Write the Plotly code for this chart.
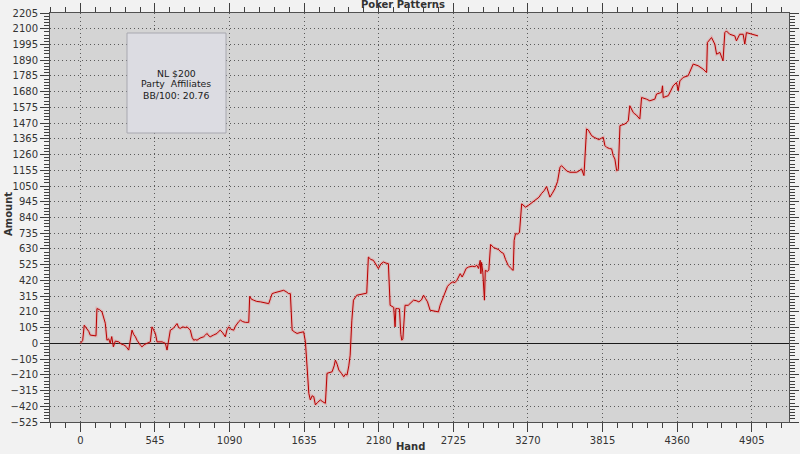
import plotly.graph_objects as go

# ---- data ----
hands = [0,17,28,46,61,72,95,114,121,139,158,173,182,194,207,218,229,241,255,280,
         299,317,333,353,366,377,389,402,414,426,441,450,465,486,499,511,523,535,548,560,
         577,597,609,621,633,645,657,679,694,706,718,730,748,767,779,791,803,816,828,840,
         852,874,901,913,925,938,949,972,998,1011,1022,1040,1059,1071,1084,1098,1120,1133,1144,1157,
         1169,1186,1206,1230,1237,1249,1266,1288,1315,1342,1376,1389,1401,1420,1437,1459,1485,1503,1522,1534,
         1547,1566,1583,1605,1631,1644,1654,1669,1680,1693,1705,1717,1732,1753,1771,1790,1802,1820,1839,1854,
         1863,1876,1888,1907,1924,1937,1948,1961,1971,1983,1995,2019,2044,2068,2080,2092,2104,2122,2141,2161,
         2177,2195,2214,2234,2250,2263,2278,2289,2299,2305,2317,2331,2341,2348,2356,2365,2372,2395,2414,2434,
         2453,2473,2492,2507,2521,2536,2555,2580,2599,2616,2628,2648,2664,2682,2701,2721,2736,2750,2775,2789,
         2804,2818,2835,2862,2882,2896,2909,2916,2921,2926,2931,2940,2952,2958,2974,2984,2997,3018,3038,3057,
         3072,3091,3106,3125,3145,3162,3169,3179,3194,3208,3224,3237,3252,3272,3291,3311,3334,3350,3369,3389,
         3406,3418,3430,3447,3466,3486,3504,3515,3535,3554,3577,3625,3642,3661,3679,3686,3698,3710,3735,3754,
         3772,3788,3808,3820,3832,3845,3866,3881,3893,3905,3918,3930,3942,3959,3978,3993,4003,4014,4027,4039,
         4051,4061,4087,4100,4136,4160,4197,4209,4246,4253,4258,4295,4331,4355,4367,4380,4404,4440,4477,4513,
         4550,4575,4581,4611,4635,4648,4672,4695,4708,4720,4744,4781,4793,4817,4842,4854,4866,4903,4951]

amounts = [0,20,121,100,80,55,50,50,232,225,210,170,134,21,30,0,45,-23,15,10,
           -5,-10,-20,-45,20,88,60,44,20,0,-15,-23,-10,0,5,10,110,90,66,10,
           12,10,5,0,-45,20,88,100,120,132,105,100,110,105,110,95,88,40,21,25,
           21,35,44,55,66,50,44,55,66,80,88,70,44,90,110,95,88,115,132,145,
           155,145,140,140,314,295,288,280,277,270,265,300,332,338,343,350,354,345,332,332,
           88,75,66,72,77,10,-150,-334,-378,-350,-356,-411,-395,-378,-390,-400,-200,-195,-190,-150,
           -112,-140,-178,-200,-223,-205,-212,-150,-79,150,288,321,325,332,332,335,576,560,554,520,
           499,530,543,535,532,254,243,240,110,232,232,230,60,21,30,200,254,254,270,288,
           285,277,290,321,300,277,221,215,210,210,254,300,343,380,399,410,405,420,465,443,
           470,500,509,515,512,521,500,540,554,465,540,475,288,487,480,490,660,640,632,625,
           610,600,560,521,500,487,687,732,730,740,931,920,909,920,935,945,965,975,1000,1020,
           1047,1010,976,1000,1031,1080,1175,1186,1165,1150,1142,1142,1150,1164,1120,1250,1431,1425,1386,1375,
           1364,1360,1370,1375,1320,1308,1300,1298,1253,1230,1153,1160,1453,1458,1464,1475,1486,1586,1560,1541,
           1531,1525,1497,1641,1630,1619,1630,1664,1675,1719,1641,1653,1719,1741,1686,1752,1775,1786,1864,1853,
           1830,1808,2008,2041,1997,1930,1942,1886,2074,2085,2063,2052,2019,2063,2063,1997,2074,2063,2052]

x_tick_labels = ["0", "545", "1090", "1635", "2180", "2725", "3270", "3815", "4360", "4905"]
x_tick_values = [0, 545, 1090, 1635, 2180, 2725, 3270, 3815, 4360, 4905]
info_lines = ["NL $200", "Party\u00a0\u00a0Affiliates", "BB/100: 20.76"]
chart_title = "Poker Patterns"
x_title = "Hand"
y_title = "Amount"

FONT = "DejaVu Sans"
L, R, T, B = 50, 789, 13, 422
PW, PH = R - L, B - T


def px_x(p):
    return (p - L) / PW


def px_y(p):
    return 1 - (p - T) / PH


fig = go.Figure()
# soft glow under the line
fig.add_trace(go.Scatter(x=hands, y=amounts, mode="lines",
                         line=dict(color="rgba(240,110,110,0.30)", width=3),
                         hoverinfo="skip", showlegend=False))
fig.add_trace(go.Scatter(x=hands, y=amounts, mode="lines",
                         line=dict(color="#b80000", width=1),
                         showlegend=False))

axis_common = dict(
    automargin=False,
    showline=True, linecolor="#505050", linewidth=1, mirror="ticks",
    ticks="outside", ticklen=9, tickcolor="#404040", tickwidth=1,
    showgrid=True, gridcolor="#5a5a5a", gridwidth=1, griddash="1px,3px",
    tickfont=dict(family=FONT, size=10, color="#333333"),
)

fig.update_xaxes(
    range=[-222, 5177], tickmode="array", tickvals=x_tick_values, ticktext=x_tick_labels,
    zeroline=False,
    minor=dict(ticks="outside", ticklen=5, tickcolor="#404040", dtick=109, tick0=0, showgrid=False),
    **axis_common,
)
fig.update_yaxes(
    range=[-525, 2205], tick0=0, dtick=105,
    zeroline=True, zerolinecolor="#1a1a1a", zerolinewidth=1,
    minor=dict(ticks="outside", ticklen=5, tickcolor="#404040", dtick=21, tick0=0, showgrid=False),
    **axis_common,
)

# info box
fig.add_shape(type="rect", xref="paper", yref="paper",
              x0=px_x(127), x1=px_x(226), y0=px_y(133), y1=px_y(33),
              fillcolor="#dcdce2", line=dict(color="#a8a8b0", width=1), layer="above")
for txt, py in zip(info_lines, [73, 84, 95]):
    fig.add_annotation(text=txt, xref="paper", yref="paper",
                       x=px_x(176), y=px_y(py),
                       xanchor="center", yanchor="middle", showarrow=False,
                       font=dict(family=FONT, size=9.3, color="#202020"))

# titles
fig.add_annotation(text="<b>" + chart_title + "</b>", xref="paper", yref="paper",
                   x=px_x(403), y=px_y(5), xanchor="center", yanchor="middle",
                   showarrow=False, font=dict(family=FONT, size=10, color="#333333"))
fig.add_annotation(text="<b>" + x_title + "</b>", xref="paper", yref="paper",
                   x=px_x(410), y=px_y(447), xanchor="center", yanchor="middle",
                   showarrow=False, font=dict(family=FONT, size=10, color="#333333"))
fig.add_annotation(text="<b>" + y_title + "</b>", xref="paper", yref="paper",
                   x=px_x(8), y=px_y(214), xanchor="center", yanchor="middle",
                   textangle=-90, showarrow=False, font=dict(family=FONT, size=10, color="#333333"))

fig.update_layout(
    width=800, height=454,
    margin=dict(l=L, r=800 - R, t=T, b=454 - B, pad=0, autoexpand=False),
    paper_bgcolor="#f2f2f2", plot_bgcolor="#d4d4d4",
    showlegend=False,
)

fig.write_html(
    "out.html",
    config={"displayModeBar": False},
    post_script="document.body.style.margin='0';document.body.style.overflow='hidden';"
                "document.body.style.background='#f2f2f2';",
)
